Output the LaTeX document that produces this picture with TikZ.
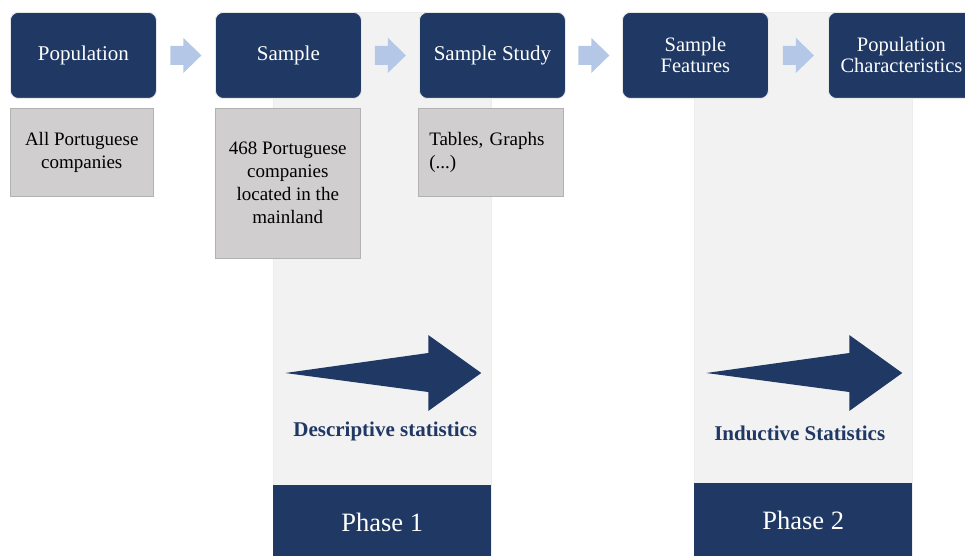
\documentclass[tikz,border=0pt]{standalone}
\usepackage{fontspec}
\setmainfont{Liberation Serif}
\newfontfamily\tms{Liberation Serif}
\usetikzlibrary{calc}

\definecolor{navy}{HTML}{203864}
\definecolor{flowblue}{HTML}{B4C7E7}
\definecolor{notegray}{HTML}{D0CECE}
\definecolor{panelgray}{HTML}{F2F2F2}

\begin{document}
\begin{tikzpicture}[x=1pt,y=-1pt,
  stage/.style={fill=navy, draw=white!82!gray, line width=0.8pt,
    rounded corners=8pt, minimum width=146pt, minimum height=86pt,
    anchor=north west, text=white, align=center, inner sep=2pt,
    font=\tms\fontsize{21}{21}\selectfont},
  note/.style={fill=notegray, draw=gray!60, line width=0.5pt,
    anchor=north west, text=black, align=center, inner sep=0pt,
    font=\tms\fontsize{19}{23}\selectfont},
  panel/.style={fill=panelgray, draw=gray!15, line width=0.5pt,
    anchor=north west, minimum width=218pt, minimum height=560pt, inner sep=0pt},
  phase/.style={fill=navy, anchor=north west, minimum width=218pt,
    minimum height=75pt, text=white, inner sep=0pt,
    font=\tms\fontsize{26.5}{28}\selectfont},
  statlabel/.style={text=navy, inner sep=0pt, font=\tms\fontsize{21}{21}\selectfont\bfseries},
  flowarrow/.pic={\fill[flowblue] (-15.5,-9.5) -- (-2.5,-9.5) -- (-2.5,-17.5)
    -- (15.5,0) -- (-2.5,17.5) -- (-2.5,9.5) -- (-15.5,9.5) -- cycle;},
  bigarrow/.pic={\fill[navy] (-97,0) -- (46,-20) -- (46,-38) -- (99,0)
    -- (46,38) -- (46,19) -- cycle;}
]
\useasboundingbox (0,0) rectangle (965,556);

% phase panels in the background
\node[panel] (pan1) at (273,12) {};
\node[panel] (pan2) at (694,12) {};

% phase footers
\node[phase] (ph1) at (273,485) {Phase 1};
\node[phase] (ph2) at (694,483) {Phase 2};

% direction arrows and labels of the two phases
\pic at ($(pan1.north)+(0,361)$) {bigarrow};
\pic at ($(pan2.north)+(0,361)$) {bigarrow};
\node[statlabel] (ds) at ($(pan1.north)+(3,419)$) {Descriptive statistics};
\node[statlabel] (is) at ($(pan2.north)+(-3.5,421)$) {Inductive Statistics};

% process stages
\node[stage] (pop) at (10,12)  {Population};
\node[stage] (smp) at (215,12) {Sample};
\node[stage] (std) at (419,12) {Sample Study};
\node[stage, font=\tms\fontsize{20.5}{21}\selectfont] (fea) at (622,12) {Sample\\Features};
\node[stage, font=\tms\fontsize{20.5}{21}\selectfont] (chr) at (828,12) {Population\\Characteristics};

% notes under the stages
\node[note, minimum width=143pt, minimum height=88pt] (n1) at (10,108)
  {All Portuguese\\companies};
\node[note, minimum width=145pt, minimum height=150pt] (n2) at (215,108)
  {468 Portuguese\\companies\\located in the\\mainland};
\node[note, minimum width=145pt, minimum height=88pt, text width=123pt,
  align=left, inner xsep=11pt] (n3) at (418,108)
  {Tables, Graphs\\(...)};

% flow between the stages
\foreach \a/\b in {pop/smp, smp/std, std/fea, fea/chr}
  \pic at ($(\a.east)!0.5!(\b.west)$) {flowarrow};
\end{tikzpicture}
\end{document}
